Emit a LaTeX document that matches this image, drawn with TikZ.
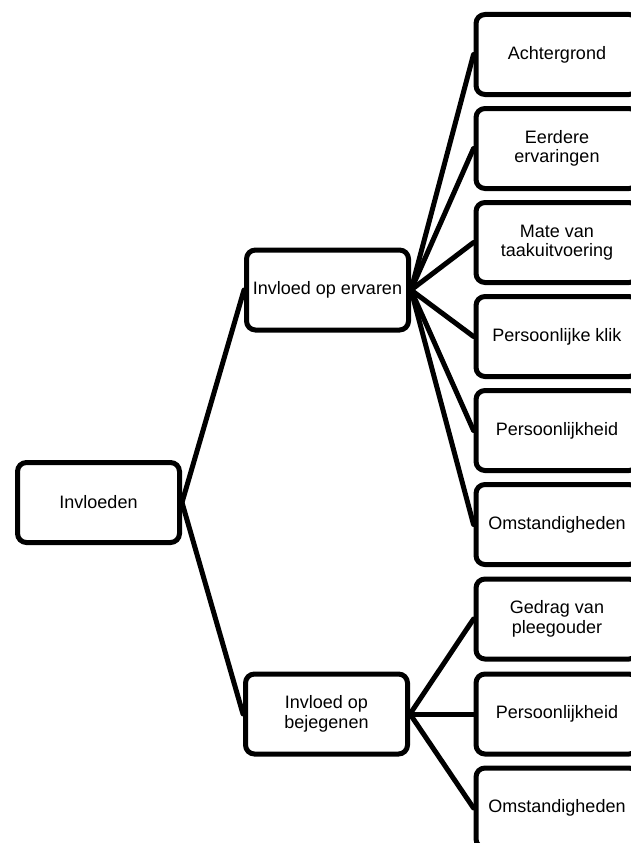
\documentclass[tikz,border=0pt]{standalone}
\usepackage{fontspec}
\setmainfont{Liberation Sans}
\usetikzlibrary{backgrounds}
\begin{document}
\begin{tikzpicture}[x=1pt,y=-1pt,
  box/.style={draw=black, fill=white, line width=5pt, rounded corners=9pt,
    minimum width=162pt, minimum height=80pt, inner sep=0pt,
    align=center, font=\fontsize{18}{19.5}\selectfont},
  link/.style={draw=black, line width=5pt, line cap=round}]
\useasboundingbox (0,0) rectangle (631,843);
\clip (0,0) rectangle (631,843);
\node[box] (root) at (98.5,502.5) {Invloeden};
\node[box] (erv) at (327.5,290) {Invloed op ervaren};
\node[box] (bej) at (326.5,714) {Invloed op\\bejegenen};
\node[box] (a1) at (557,54.5) {Achtergrond};
\node[box] (a2) at (557,148.5) {Eerdere\\ervaringen};
\node[box] (a3) at (557,242.5) {Mate van\\taakuitvoering};
\node[box] (a4) at (557,336.5) {Persoonlijke klik};
\node[box] (a5) at (557,430.5) {Persoonlijkheid};
\node[box] (a6) at (557,524.5) {Omstandigheden};
\node[box] (b1) at (557,619) {Gedrag van\\pleegouder};
\node[box] (b2) at (557,714) {Persoonlijkheid};
\node[box] (b3) at (557,808) {Omstandigheden};
\begin{pgfonlayer}{background}
\draw[link] (root.east) -- (erv.west);
\draw[link] (root.east) -- (bej.west);
\foreach \c in {a1,a2,a3,a4,a5,a6} \draw[link] (erv.east) -- (\c.west);
\foreach \c in {b1,b2,b3} \draw[link] (bej.east) -- (\c.west);
\end{pgfonlayer}
\end{tikzpicture}
\end{document}
